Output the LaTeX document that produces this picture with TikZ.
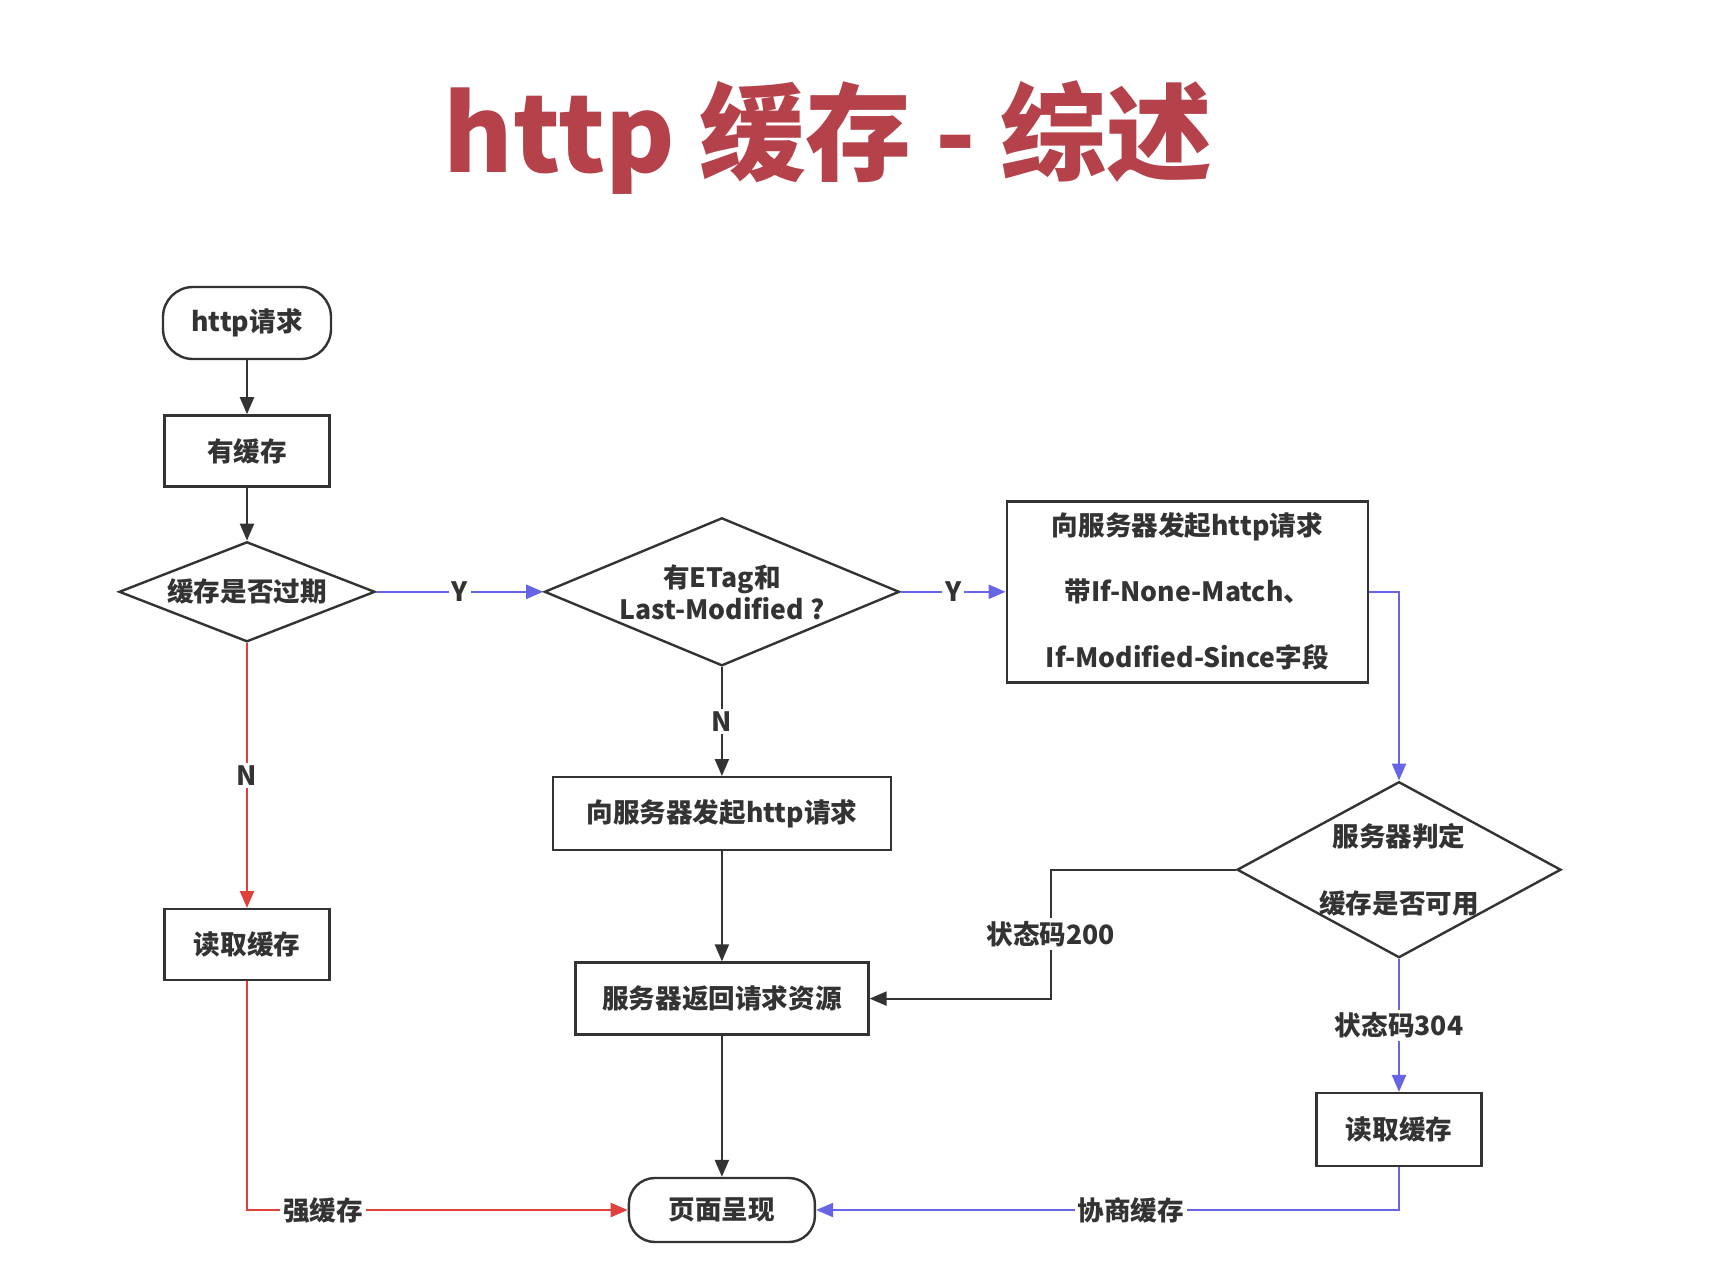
\documentclass[tikz,border=0pt]{standalone}
\usepackage{fontspec}
\setmainfont{Noto Sans CJK SC}
\usetikzlibrary{arrows.meta,positioning,shapes.geometric}
\definecolor{titlered}{HTML}{B5424A}
\definecolor{strongred}{HTML}{DE403B}
\definecolor{negoblue}{HTML}{6565E6}
\definecolor{inkgray}{HTML}{333333}

\begin{document}
\begin{tikzpicture}[
  node distance=28pt and 80pt,
  every node/.style={font=\fontsize{13.3pt}{16pt}\selectfont\bfseries, align=center, text=inkgray},
  n/.style={draw=inkgray, line width=1.2pt, minimum height=35.5pt, minimum width=82.5pt, inner sep=2pt},
  term/.style={n, rounded corners=15pt},
  dec/.style={n, diamond, inner sep=0pt},
  tag/.style={fill=white, inner sep=1.5pt},
  arr/.style={-{Triangle[length=8.5pt, width=7pt]}, line width=1.1pt, color=inkgray},
  redarr/.style={arr, color=strongred},
  bluearr/.style={arr, color=negoblue},
]
  \useasboundingbox (0,0) rectangle (859pt,-634pt);
  \node[font=\fontsize{53pt}{53pt}\selectfont\bfseries, text=titlered] (title) at (414pt,-69pt) {http 缓存 - 综述};

  % left column
  \node[term, minimum width=84pt, minimum height=36pt] (start) at (123.5pt,-161.5pt) {http请求};
  \node[n, below=27pt of start] (hascache) {有缓存};
  \node[dec, below=26.5pt of hascache, aspect=2.56, minimum width=128pt, minimum height=50pt] (expired) {缓存是否过期};
  \node[n, below=132.5pt of expired] (readL) {读取缓存};

  % middle column
  \node[dec, right=83.5pt of expired, aspect=2.4, minimum width=177.5pt, minimum height=74pt] (etag) {有ETag和\\Last-Modified ?};
  \node[n, below=54.5pt of etag, minimum width=169pt, minimum height=36.5pt] (reqsimple) {向服务器发起http请求};
  \node[n, below=55pt of reqsimple, minimum width=146.5pt, minimum height=36pt] (back) {服务器返回请求资源};
  \node[term, below=70.5pt of back, minimum width=93pt, minimum height=32pt, rounded corners=13pt] (page) {页面呈现};

  % right column
  \node[n, right=52.5pt of etag, minimum width=180.5pt, minimum height=90.5pt,
        font=\fontsize{13.3pt}{33pt}\selectfont\bfseries] (req) {向服务器发起http请求\\带If-None-Match、\\If-Modified-Since字段};
  \node[dec, below=48.5pt of req.south east, xshift=15pt, minimum width=162pt, minimum height=88pt] (judge) {};
  \node[font=\fontsize{13.3pt}{33.5pt}\selectfont\bfseries] (judgetxt) at (judge) {服务器判定\\缓存是否可用};
  \node[n, below=66.5pt of judge, minimum height=36.5pt] (readR) {读取缓存};

  \draw[arr] (start) -- (hascache);
  \draw[arr] (hascache) -- (expired);
  \draw[bluearr] (expired) -- node[tag] (y1) {Y} (etag);
  \draw[redarr] (expired) -- node[tag] (n1) {N} (readL);
  \draw[bluearr] (etag) -- node[tag] (y2) {Y} (req);
  \draw[arr] (etag) -- node[tag] (n2) {N} (reqsimple);
  \draw[bluearr] (req.east) -| (judge.north);
  \draw[arr] (reqsimple) -- (back);
  \draw[arr] (back) -- (page);
  \draw[arr] (judge.west) -- ++(-92.5pt,0) |- node[tag, pos=0.25] (s200) {状态码200} (back.east);
  \draw[bluearr] (judge) -- node[tag] (s304) {状态码304} (readR);
  \draw[redarr] (readL.south) |- node[tag, pos=0.6] (strong) {强缓存} (page.west);
  \draw[bluearr] (readR.south) |- node[tag, pos=0.73] (nego) {协商缓存} (page.east);
\end{tikzpicture}
\end{document}
